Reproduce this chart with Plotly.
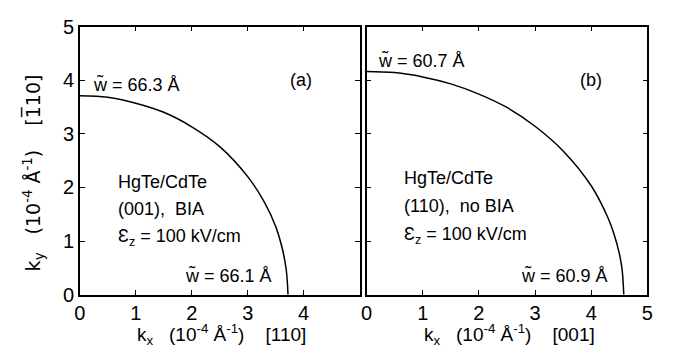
import plotly.graph_objects as go

# Panel (a): HgTe/CdTe (001), BIA  -- constant-energy contour (kx, ky) in 1e-4 1/Å
kx_a = [0.0, 0.5, 1.0, 1.5, 2.0, 2.5, 3.0, 3.3, 3.5, 3.62, 3.69, 3.72]
ky_a = [3.71, 3.68, 3.57, 3.40, 3.13, 2.76, 2.20, 1.72, 1.27, 0.85, 0.45, 0.0]

# Panel (b): HgTe/CdTe (110), no BIA
kx_b = [0.0, 0.5, 1.0, 1.5, 2.0, 2.5, 3.0, 3.5, 4.0, 4.3, 4.4, 4.5, 4.55, 4.58]
ky_b = [4.16, 4.14, 4.06, 3.93, 3.74, 3.49, 3.14, 2.68, 2.03, 1.43, 1.15, 0.77, 0.47, 0.0]

ticks_a = [0, 1, 2, 3, 4]
ticks_b = [0, 1, 2, 3, 4, 5]
ticks_y = [0, 1, 2, 3, 4, 5]

FONT = "Liberation Sans"
# page body has an 8px default margin; lay the figure out in the remaining area
OFF = 8
W, H = 673 - OFF, 360 - OFF

def px_x(p):
    return (p - OFF) / W

def px_y(p):
    return (H - (p - OFF)) / H

fig = go.Figure()
fig.add_trace(go.Scatter(x=kx_a, y=ky_a, mode="lines", line=dict(color="black", width=1.5, shape="spline"),
                         xaxis="x", yaxis="y", showlegend=False, hoverinfo="skip"))
fig.add_trace(go.Scatter(x=kx_b, y=ky_b, mode="lines", line=dict(color="black", width=1.5, shape="spline"),
                         xaxis="x2", yaxis="y2", showlegend=False, hoverinfo="skip"))

ax_common = dict(range=[0, 5], showline=True, linecolor="black", linewidth=1.5, mirror="allticks",
                 ticks="inside", ticklen=5, tickwidth=1, tickcolor="black", showgrid=False, zeroline=False,
                 ticklabeloverflow="allow",
                 tickfont=dict(family=FONT, size=20, color="black"))

ydom = [px_y(302), px_y(16)]
fig.update_layout(
    width=W, height=H, margin=dict(l=0, r=0, t=0, b=0),
    paper_bgcolor="white", plot_bgcolor="white",
    font=dict(family=FONT, color="black"),
    xaxis=dict(**ax_common, domain=[px_x(75), px_x(360)], tickvals=ticks_a, anchor="y"),
    yaxis=dict(**ax_common, domain=ydom, tickvals=ticks_y, anchor="x"),
    xaxis2=dict(**ax_common, domain=[px_x(367), px_x(653)], tickvals=ticks_b, anchor="y2"),
    yaxis2=dict(**ax_common, domain=ydom, tickvals=ticks_y, showticklabels=False, anchor="x2"),
)

def ann(text, x, y, xref, yref, xanchor="left", size=18, textangle=0, family=FONT):
    fig.add_annotation(text=text, x=x, y=y, xref=xref, yref=yref, xanchor=xanchor, yanchor="middle",
                       showarrow=False, textangle=textangle, font=dict(family=family, size=size, color="black"))

# Panel (a)
ann("w\u0303 = 66.3 Å", 0.2, 3.92, "x", "y")
ann("(a)", 3.95, 4.0, "x", "y", xanchor="center")
ann("HgTe/CdTe", 0.65, 2.1, "x", "y")
ann("(001),  BIA", 0.65, 1.6, "x", "y")
ann("Ɛ<sub>z</sub> = 100 kV/cm", 0.65, 1.07, "x", "y")
ann("w\u0303 = 66.1 Å", 3.47, 0.35, "x", "y", xanchor="right")

# Panel (b)
ann("w\u0303 = 60.7 Å", 0.17, 4.37, "x2", "y2")
ann("(b)", 4.0, 4.0, "x2", "y2", xanchor="center")
ann("HgTe/CdTe", 0.63, 2.17, "x2", "y2")
ann("(110),  no BIA", 0.63, 1.66, "x2", "y2")
ann("Ɛ<sub>z</sub> = 100 kV/cm", 0.63, 1.11, "x2", "y2")
ann("w\u0303 = 60.9 Å", 4.34, 0.35, "x2", "y2", xanchor="right")

# Axis titles
ann("k<sub>x</sub>   (10<sup>-4</sup> Å<sup>-1</sup>)    [110]", px_x(219), px_y(345), "paper", "paper", xanchor="center", size=19)
ann("k<sub>x</sub>   (10<sup>-4</sup> Å<sup>-1</sup>)    [001]", px_x(513), px_y(345), "paper", "paper", xanchor="center", size=19)
ann("k<sub>y</sub>   (10<sup>-4</sup> Å<sup>-1</sup>)    [1\u030510]", px_x(28), px_y(172), "paper", "paper",
    xanchor="center", textangle=-90, size=19, family="DejaVu Sans")

fig.write_html("out.html")
